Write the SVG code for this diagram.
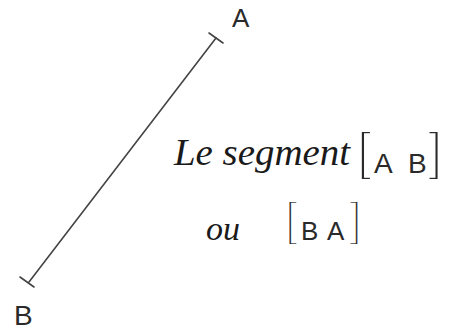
<svg xmlns="http://www.w3.org/2000/svg" width="450" height="330" viewBox="0 0 450 330">
<style>
.ink{stroke:#444444;stroke-width:1.6;stroke-linecap:round;fill:none}
.sans{font-family:"Liberation Sans","DejaVu Sans",sans-serif;fill:#2a2a2a}
.br{stroke:#ffffff;stroke-width:2.2}
.hand{font-family:"Liberation Serif","DejaVu Serif",serif;font-style:italic;fill:#1a1a1a}
</style>
<rect width="450" height="330" fill="#ffffff"/>
<g id="connectors">
<line class="ink" x1="216" y1="38" x2="29" y2="282"/>
<line class="ink" x1="209" y1="33" x2="223" y2="43"/>
<line class="ink" x1="20" y1="277" x2="34" y2="287"/>
</g>
<g id="pointA"><text class="sans" x="232" y="27" font-size="26">A</text></g>
<g id="pointB"><text class="sans" x="14" y="325" font-size="28">B</text></g>
<g id="label">
<text class="hand" x="174" y="165" font-size="38" textLength="176" lengthAdjust="spacingAndGlyphs">Le segment</text>
<text class="sans" y="169"><tspan class="br" x="357" font-size="52">[</tspan><tspan x="374" y="173" font-size="28">A</tspan><tspan x="408" y="173" font-size="28">B</tspan><tspan class="br" x="428" y="169" font-size="52">]</tspan></text>
<text class="hand" x="206" y="240" font-size="34">ou</text>
<text class="sans" y="235"><tspan class="br" x="285" font-size="46">[</tspan><tspan x="301" y="240" font-size="26">B</tspan><tspan x="327" y="240" font-size="26">A</tspan><tspan class="br" x="349" y="235" font-size="46">]</tspan></text>
</g>
</svg>
